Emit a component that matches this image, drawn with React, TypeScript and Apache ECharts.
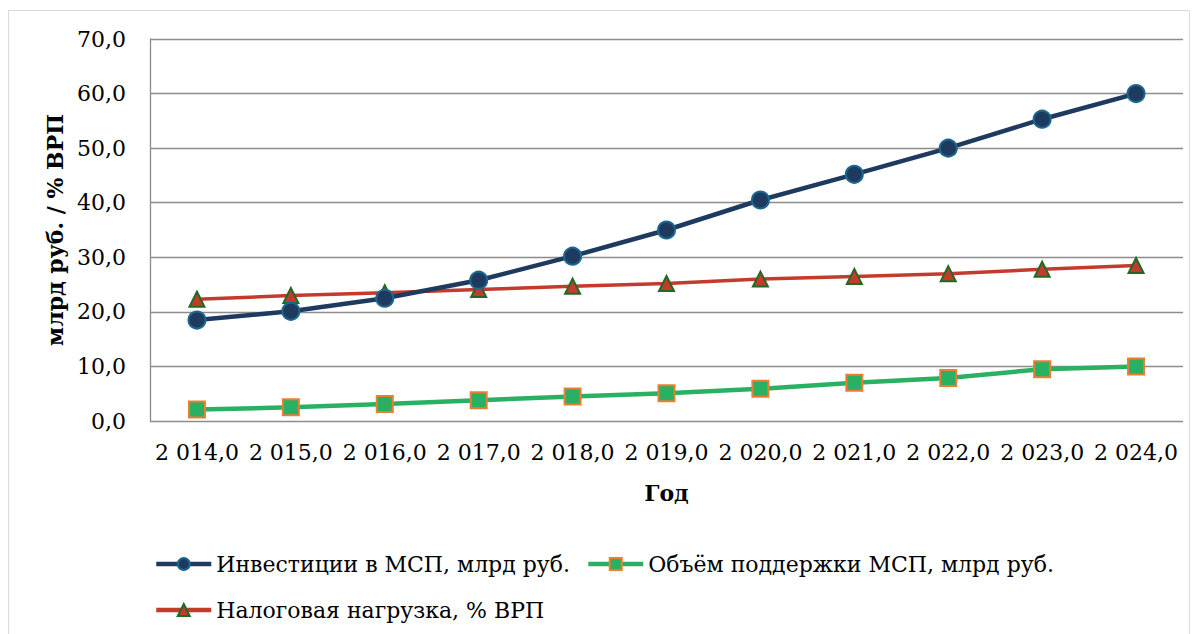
import React, { useEffect, useRef } from "react";
import * as echarts from "echarts";

const categories = ["2 014,0", "2 015,0", "2 016,0", "2 017,0", "2 018,0", "2 019,0", "2 020,0", "2 021,0", "2 022,0", "2 023,0", "2 024,0"];
const investments = [18.5, 20.1, 22.5, 25.8, 30.2, 35.0, 40.5, 45.2, 50.0, 55.3, 60.0];
const support = [2.1, 2.5, 3.1, 3.8, 4.5, 5.1, 5.9, 7.0, 7.9, 9.5, 10.0];
const taxLoad = [22.3, 23.0, 23.5, 24.1, 24.7, 25.2, 26.0, 26.5, 27.0, 27.8, 28.5];
const seriesNames = ["Инвестиции в МСП, млрд руб.", "Объём поддержки МСП, млрд руб.", "Налоговая нагрузка, % ВРП"];

const FONT = "DejaVu Serif";
const FS = 22;

export default function App() {
  const ref = useRef<HTMLDivElement>(null);
  useEffect(() => {
    if (!ref.current) return;
    const chart = echarts.init(ref.current, null, { renderer: "svg" });
    chart.setOption({
      animation: false,
      textStyle: { fontFamily: FONT },
      graphic: [
        {
          type: "rect",
          shape: { x: 0.5, y: 2.5, width: 1181, height: 700 },
          style: { fill: "none", stroke: "#d9d9d9", lineWidth: 1 },
          silent: true,
        },
      ],
      grid: { left: 142, top: 31, right: 7, bottom: 213 },
      legend: {
        left: 146,
        top: 541,
        padding: 0,
        width: 960,
        itemWidth: 55,
        itemHeight: 15,
        itemGap: 16,
        lineStyle: { width: 4.5 },
        textStyle: { fontFamily: FONT, fontSize: FS, color: "#000", lineHeight: 30 },
        data: seriesNames,
      },
      xAxis: {
        type: "category",
        data: categories,
        boundaryGap: true,
        name: "Год",
        nameLocation: "middle",
        nameGap: 61,
        nameTextStyle: { fontFamily: FONT, fontSize: FS, fontWeight: "bold", color: "#000" },
        axisLine: { show: false },
        axisTick: { show: false },
        axisLabel: { fontFamily: FONT, fontSize: FS, color: "#000", margin: 20, interval: 0 },
      },
      yAxis: {
        type: "value",
        min: 0,
        max: 70,
        interval: 10,
        name: "млрд руб. / % ВРП",
        nameLocation: "middle",
        nameGap: 79,
        nameTextStyle: { fontFamily: FONT, fontSize: FS, fontWeight: "bold", color: "#000" },
        axisLine: { show: true, lineStyle: { color: "#8c8c8c", width: 1.3 } },
        axisTick: { show: false },
        axisLabel: {
          fontFamily: FONT,
          fontSize: FS,
          color: "#000",
          margin: 24,
          formatter: (v: number) => v.toFixed(1).replace(".", ","),
        },
        splitLine: { show: true, lineStyle: { color: "#8c8c8c", width: 1.3 } },
      },
      series: [
        {
          name: seriesNames[0],
          type: "line",
          data: investments,
          symbol: "circle",
          symbolSize: 17,
          lineStyle: { color: "#1f3a5f", width: 4.5 },
          itemStyle: { color: "#1f3a5f", borderColor: "#1b6790", borderWidth: 2 },
          z: 3,
        },
        {
          name: seriesNames[1],
          type: "line",
          data: support,
          symbol: "rect",
          symbolSize: 16,
          lineStyle: { color: "#2ab062", width: 4.5 },
          itemStyle: { color: "#2ab062", borderColor: "#ed7d31", borderWidth: 2 },
          z: 2,
        },
        {
          name: seriesNames[2],
          type: "line",
          data: taxLoad,
          symbol: "triangle",
          symbolSize: 15,
          lineStyle: { color: "#c43b2e", width: 3.5 },
          itemStyle: { color: "#c43b2e", borderColor: "#1f6b24", borderWidth: 2 },
          z: 2,
        },
      ],
    });
    return () => chart.dispose();
  }, []);
  return <div ref={ref} style={{ width: 1182, height: 626 }} />;
}
